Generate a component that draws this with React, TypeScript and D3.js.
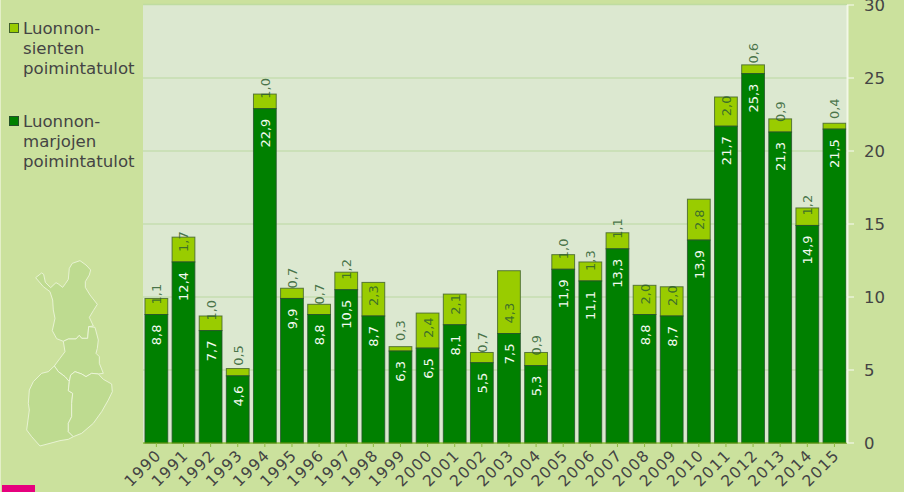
import React from "react";
import * as d3 from "d3";

const years = ["1990","1991","1992","1993","1994","1995","1996","1997","1998","1999","2000","2001","2002","2003","2004","2005","2006","2007","2008","2009","2010","2011","2012","2013","2014","2015"];
const berries = [8.8,12.4,7.7,4.6,22.9,9.9,8.8,10.5,8.7,6.3,6.5,8.1,5.5,7.5,5.3,11.9,11.1,13.3,8.8,8.7,13.9,21.7,25.3,21.3,14.9,21.5];
const mushrooms = [1.1,1.7,1.0,0.5,1.0,0.7,0.7,1.2,2.3,0.3,2.4,2.1,0.7,4.3,0.9,1.0,1.3,1.1,2.0,2.0,2.8,2.0,0.6,0.9,1.2,0.4];
const yTicks = [0,5,10,15,20,25,30];
const legendMushrooms = ["Luonnon-","sienten","poimintatulot"];
const legendBerries = ["Luonnon-","marjojen","poimintatulot"];

const mapRegions = [
  "107,113 125,99 131,103 136,127 152,143 168,128 175,132 188,142 197,130 205,118 208,85 217,70 240,62 258,75 272,90 268,105 256,125 256,142 270,165 292,193 280,212 268,232 280,258 266,260 263,295 245,295 238,286 228,297 205,297 190,304 170,296 157,272 165,235 160,210 158,180 150,155 130,140",
  "190,304 195,335 180,355 163,378 175,395 195,410 208,425 212,405 225,395 245,402 258,410 275,400 295,402 310,400 298,370 298,350 288,340 292,325 295,300 285,262 266,260 263,295 245,295 238,286 228,297 205,297",
  "163,378 145,395 125,400 100,425 88,450 85,490 88,510 80,570 95,590 120,618 150,610 180,602 205,598 220,590 205,575 205,550 215,530 215,490 218,460 205,452 208,425 195,410 175,395",
  "208,425 212,405 225,395 245,402 258,410 275,400 295,402 310,418 335,432 337,455 325,480 305,515 280,550 245,580 220,590 205,575 205,550 215,530 215,490 218,460 205,452",
];

const FONT = "'DejaVu Sans', Verdana, sans-serif";
const W = 904, H = 492;
const L = 143, R = 847, T = 5, B = 443;

export default function App() {
  const x = d3.scaleBand<string>().domain(years).range([142.8, 848]).paddingInner(0.16).paddingOuter(0.08);
  const y = d3.scaleLinear().domain([0, 30]).range([B, T]);
  const fmt = (v: number) => v.toFixed(1).replace(".", ",");
  const stack = d3.stack<number>().keys(["0", "1"]).value((i, k) => (k === "0" ? berries[i] : mushrooms[i]));
  const [darkS, lightS] = stack(d3.range(years.length));
  const bw = x.bandwidth();
  return (
    <svg width={W} height={H} viewBox={`0 0 ${W} ${H}`} style={{ position: "fixed", left: 0, top: 0, display: "block" }} fontFamily={FONT}>
      <rect x={0} y={0} width={W} height={H} fill="#cbe19d" />
      <rect x={0} y={0} width={1} height={H} fill="#e4efc8" />
      <rect x={2} y={485} width={33} height={7} fill="#e6007e" />
      <rect x={L} y={T} width={R - L} height={B - T} fill="#dce8d0" />
      <line x1={L} x2={R} y1={T - 0.5} y2={T - 0.5} stroke="#bfdca0" strokeWidth={1.5} />
      {yTicks.slice(1, -1).map((t) => (
        <line key={t} x1={L} x2={R} y1={y(t)} y2={y(t)} stroke="#c6deb0" strokeWidth={1.5} />
      ))}
      <g transform="translate(0,240) scale(0.3333)">
        {mapRegions.map((p, i) => (
          <polygon key={i} points={p} fill="#bedb90" stroke="#eef6dc" strokeWidth={2.6} strokeLinejoin="round" />
        ))}
      </g>
      {years.map((yr, i) => {
        const cx = x(yr)! + bw / 2;
        const yTop = y(darkS[i][1]);
        const yMid = y(darkS[i][0]);
        const lTop = y(lightS[i][1]);
        return (
          <g key={yr}>
            <rect x={x(yr)!} y={lTop} width={bw} height={yTop - lTop} fill="#99cc00" stroke="#3f5f2a" strokeOpacity={0.8} strokeWidth={1} />
            <rect x={x(yr)!} y={yTop} width={bw} height={yMid - yTop} fill="#008000" stroke="#24512a" strokeOpacity={0.8} strokeWidth={1} />
            <text transform={`translate(${cx + 5},${yTop + 10}) rotate(-90)`} textAnchor="end" fontSize={13} fill="#f4faf0">{fmt(berries[i])}</text>
            <text transform={`translate(${cx + 5},${yTop - 10}) rotate(-90)`} textAnchor="start" fontSize={13} fill="#2f5f30" fillOpacity={0.85}>{fmt(mushrooms[i])}</text>
          </g>
        );
      })}
      <line x1={L} x2={R} y1={B} y2={B} stroke="#66a800" strokeWidth={1.2} />
      {years.map((yr) => {
        const cx = x(yr)! + bw / 2;
        return (
          <g key={yr}>
            <line x1={cx} x2={cx} y1={B} y2={B + 4} stroke="#8dbb3c" strokeWidth={1} />
            <text transform={`translate(${cx + 6},${B + 13}) rotate(-45)`} textAnchor="end" fontSize={15.5} letterSpacing={1.3} fill="#444444">{yr}</text>
          </g>
        );
      })}
      <line x1={847.5} x2={847.5} y1={T} y2={B} stroke="#f2f7e6" strokeWidth={2} />
      {yTicks.map((t) => (
        <g key={t}>
          <line x1={847} x2={854} y1={y(t)} y2={y(t)} stroke="#f2f7e6" strokeWidth={1.2} />
          <text x={864} y={y(t) + 6} fontSize={16.5} fill="#444444">{t}</text>
        </g>
      ))}
      <rect x={9.5} y={23.5} width={9} height={9} fill="#99cc00" stroke="#3f5f2a" />
      {legendMushrooms.map((s, i) => (
        <text key={i} x={23} y={34 + i * 20} fontSize={16.6} fill="#444444">{s}</text>
      ))}
      <rect x={9.5} y={116.5} width={9} height={9} fill="#008000" stroke="#24512a" />
      {legendBerries.map((s, i) => (
        <text key={i} x={23} y={127 + i * 20} fontSize={16.6} fill="#444444">{s}</text>
      ))}
    </svg>
  );
}
